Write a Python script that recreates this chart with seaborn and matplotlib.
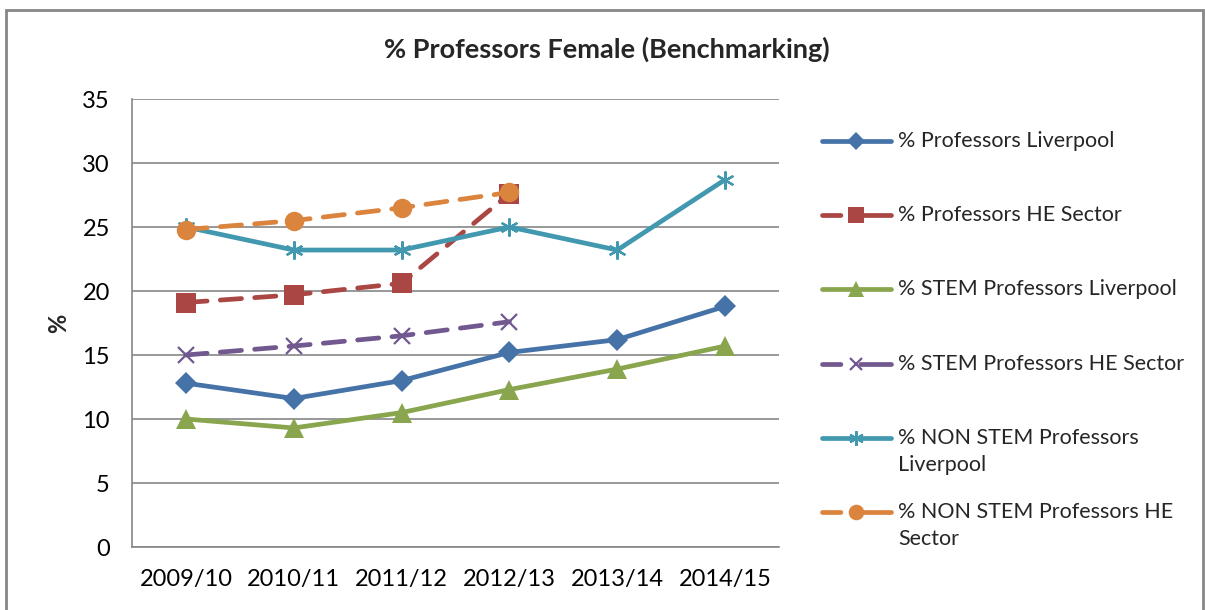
import matplotlib.pyplot as plt
import matplotlib.patches as mpatches
from matplotlib.lines import Line2D
import seaborn as sns

# ==========================================
# DATA
# ==========================================

years = ["2009/10", "2010/11", "2011/12", "2012/13", "2013/14", "2014/15"]

prof_liverpool = [12.8, 11.6, 13.0, 15.2, 16.2, 18.8]
prof_he_sector = [19.1, 19.7, 20.6, 27.6]
stem_liverpool = [10.0, 9.3, 10.5, 12.3, 13.9, 15.7]
stem_he_sector = [15.0, 15.7, 16.5, 17.6]
nonstem_liverpool = [25.0, 23.2, 23.2, 25.0, 23.2, 28.7]
nonstem_he_sector = [24.8, 25.5, 26.5, 27.7]

series_labels = [
    "% Professors Liverpool",
    "% Professors HE Sector",
    "% STEM Professors Liverpool",
    "% STEM Professors HE Sector",
    "% NON STEM Professors\nLiverpool",
    "% NON STEM Professors HE\nSector",
]

y_ticks = [0, 5, 10, 15, 20, 25, 30, 35]

# ==========================================
# STYLES
# ==========================================

DASH = (0, (4.5, 2.8))
LEGEND_DASH = (0, (3.9, 4.2, 10.0, 10.0))

styles = [
    dict(color="#4572A7", marker="D", ms=11, ls="-"),
    dict(color="#AA4643", marker="s", ms=14, ls=DASH),
    dict(color="#89A54E", marker="^", ms=15, ls="-"),
    dict(color="#71588F", marker="x", ms=11, ls=DASH),
    dict(color="#4198AF", marker=(6, 2, 0), ms=13, ls="-"),
    dict(color="#DB843D", marker="o", ms=14, ls=DASH),
]

all_series = [
    prof_liverpool,
    prof_he_sector,
    stem_liverpool,
    stem_he_sector,
    nonstem_liverpool,
    nonstem_he_sector,
]

sns.set_style("white")
plt.rcParams["font.family"] = ["Lato", "DejaVu Sans"]

fig = plt.figure(figsize=(12.05, 6.1), dpi=100)

ax = fig.add_axes([132 / 1205, 1 - 547 / 610, (779 - 132) / 1205, (547 - 99) / 610])

ax.set_axisbelow(True)

for values, st in zip(all_series, styles):

    line_markers = st["marker"] in ("x", (6, 2, 0))

    sns.lineplot(
        x=years[:len(values)],
        y=values,
        ax=ax,
        color=st["color"],
        marker=st["marker"],
        markersize=st["ms"],
        markeredgecolor=st["color"],
        markeredgewidth=1.6 if line_markers else 0,
        linestyle=st["ls"],
        linewidth=3.4,
        dash_capstyle="round",
        solid_capstyle="round",
        sort=False,
    )

ax.set_xlim(-0.5, len(years) - 0.5)
ax.set_ylim(0, 35)
ax.set_yticks(y_ticks)

ax.yaxis.grid(True, color="#868686", linewidth=1.2)
ax.xaxis.grid(False)

for side in ["top", "right"]:
    ax.spines[side].set_visible(False)

for side in ["left", "bottom"]:
    ax.spines[side].set_color("#868686")
    ax.spines[side].set_linewidth(1.2)

ax.tick_params(axis="both", length=0, labelsize=17, colors="black")
ax.tick_params(axis="y", pad=16)
ax.tick_params(axis="x", pad=16)

ax.set_xlabel("")
ax.set_ylabel("%", fontsize=17, fontweight="bold", labelpad=9)

fig.text(
    607 / 1205, 1 - 49 / 610,
    "% Professors Female (Benchmarking)",
    ha="center", va="center",
    fontsize=19.5, fontweight="bold",
)

# ==========================================
# LEGEND (manual, to keep first-line alignment)
# ==========================================

W, H = 1205, 610

for i, (label, st) in enumerate(zip(series_labels, styles)):

    y_px = 141 + i * 74.2

    y = 1 - y_px / H

    line_markers = st["marker"] in ("x", (6, 2, 0))

    fig.add_artist(
        Line2D(
            [822 / W, 891 / W], [y, y],
            color=st["color"],
            linestyle="-" if st["ls"] == "-" else LEGEND_DASH,
            linewidth=3.4,
            dash_capstyle="round",
            solid_capstyle="round",
        )
    )

    fig.add_artist(
        Line2D(
            [856 / W], [y],
            color=st["color"],
            marker=st["marker"],
            markersize=st["ms"] * 0.8,
            markeredgecolor=st["color"],
            markeredgewidth=1.6 if line_markers else 0,
            linestyle="none",
        )
    )

    fig.text(
        898 / W, y + 10 / H,
        label,
        ha="left", va="top",
        fontsize=15.5,
        linespacing=1.45,
    )

# outer border
fig.add_artist(
    mpatches.Rectangle(
        (6 / W, -0.05), (1203 - 6) / W, 1.05 - 10 / H,
        transform=fig.transFigure,
        fill=False,
        edgecolor="#868686",
        linewidth=2,
    )
)

plt.savefig("out.png", dpi=100)

plt.close()
